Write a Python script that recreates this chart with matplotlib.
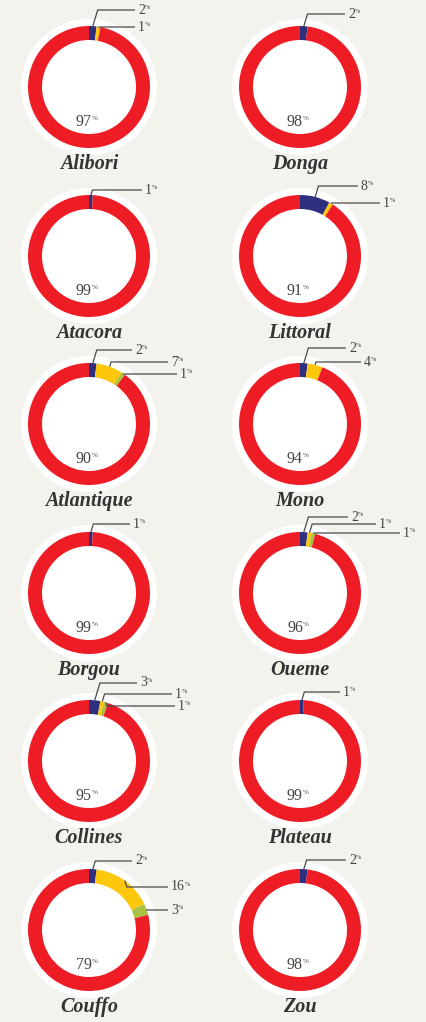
import numpy as np
import matplotlib.pyplot as plt
from matplotlib.patches import Circle

# shares per region (percent), segments clockwise from 12 o'clock
regions = ["Alibori", "Donga", "Atacora", "Littoral", "Atlantique", "Mono",
           "Borgou", "Oueme", "Collines", "Plateau", "Couffo", "Zou"]
navy = [2, 2, 1, 8, 2, 2, 1, 2, 3, 1, 2, 2]
yellow = [1, 0, 0, 1, 7, 4, 0, 1, 1, 0, 16, 0]
green = [0, 0, 0, 0, 1, 0, 0, 1, 1, 0, 3, 0]
red = [97, 98, 99, 91, 90, 94, 99, 96, 95, 99, 79, 98]

seg_colors = ["#2e2f7f", "#fdc70c", "#a9c23f", "#ee1c25"]

# leader label rows: (dy of label from centre, px; dx of line end from centre, px)
label_rows = {
    "Alibori": [(-77, 46), (-60, 46)],
    "Donga": [(-73, 45)],
    "Atacora": [(-66, 53)],
    "Littoral": [(-70, 58), (-53, 80)],
    "Atlantique": [(-74, 43), (-62, 79), (-50, 88)],
    "Mono": [(-76, 46), (-62, 61)],
    "Borgou": [(-69, 41)],
    "Oueme": [(-76, 48), (-69, 76), (-60, 100)],
    "Collines": [(-78, 48), (-67, 83), (-55, 86)],
    "Plateau": [(-69, 40)],
    "Couffo": [(-69, 43), (-43, 79), (-20, 79)],
    "Zou": [(-70, 46)],
}

W, H = 427, 1022
col_x = [89, 300]
row_y = [87, 256, 424, 593, 761, 930]
R_OUT, R_W, R_BG = 61, 14, 68

bg = "#f4f2ec"
txt = "#444444"
serif = "Liberation Serif"

fig = plt.figure(figsize=(W / 100, H / 100), dpi=100)
fig.patch.set_facecolor(bg)
ax = fig.add_axes([0, 0, 1, 1])
ax.set_facecolor(bg)


def pct_label(x, y, value, size, ha):
    t = ax.text(x, y, str(value), fontsize=size, family=serif, color=txt,
                ha=ha, va="center")
    ax.annotate("%", xy=(1.0, 0.9), xycoords=t, fontsize=size * 0.45,
                family=serif, color=txt, ha="left", va="top")
    return t


for i, name in enumerate(regions):
    cx = col_x[i % 2]
    cy_pix = row_y[i // 2]
    cy = H - cy_pix

    ax.add_patch(Circle((cx, cy), R_BG, facecolor="white", edgecolor="none", zorder=0))

    vals = [navy[i], yellow[i], green[i], red[i]]
    keep = [k for k, v in enumerate(vals) if v > 0]
    ax.pie([vals[k] for k in keep], colors=[seg_colors[k] for k in keep],
           radius=R_OUT, center=(cx, cy), startangle=90, counterclock=False,
           wedgeprops=dict(width=R_W, linewidth=0))

    # leader lines for the small segments
    cum = 0
    rows = label_rows[name]
    r = 0
    for k in range(3):
        v = vals[k]
        if v == 0:
            continue
        mid = (cum + v / 2) / 100 * 2 * np.pi
        cum += v
        ax_x = cx + R_OUT * np.sin(mid)
        ax_y = cy_pix - R_OUT * np.cos(mid)
        dy, dx = rows[r]
        r += 1
        ly = cy_pix + dy
        ex = ax_x + 0.3 * abs(ax_y - ly)
        end = cx + dx
        ax.plot([ax_x, ex, end], [H - ax_y, H - ly, H - ly], color="#4a4a4a",
                lw=0.9, solid_capstyle="butt", zorder=5)
        pct_label(end + 3, H - ly, v, 10, "left")

    # main share at the bottom of the ring
    pct_label(cx - 5, cy - 35, red[i], 11.5, "center")

    ax.text(cx, H - (cy_pix + 77), name, fontsize=14.5, family=serif,
            fontweight="bold", fontstyle="italic", color="#333333",
            ha="center", va="center")

ax.set_xlim(0, W)
ax.set_ylim(0, H)
ax.set_aspect("equal")
ax.axis("off")

fig.savefig("out.png", dpi=100, facecolor=bg)
